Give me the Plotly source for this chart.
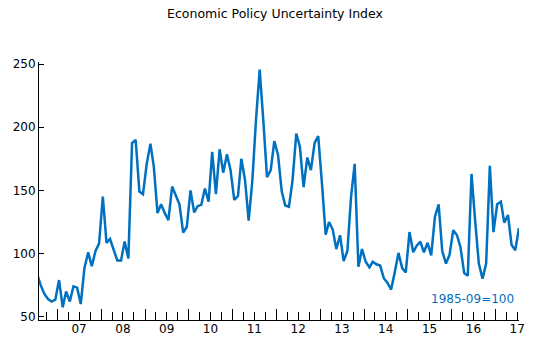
import pandas as pd
import plotly.graph_objects as go

# Monthly index values, Jul 2006 - Jul 2017
values = [
    84, 75, 68, 64, 62, 63.5,                                             # 2006 Jul-Dec
    79, 57.5, 70, 62, 74, 73, 60, 88.5, 101, 90, 102, 108,                # 2007
    145, 108.5, 111.5, 102, 94.5, 94.5, 109.5, 96, 187.5, 190, 149, 147,  # 2008
    171, 187, 169, 132, 139, 132, 126.5, 153, 146, 139, 116.5, 121,       # 2009
    150, 132.5, 137.5, 138.5, 151.5, 141, 180.5, 147, 182.5, 164, 178.5, 166,  # 2010
    142.5, 145.5, 175, 158, 126, 158, 205.5, 245.5, 204, 160.5, 166, 189,  # 2011
    178, 149, 138, 137, 158, 195, 184.5, 152.5, 176, 166, 187.5, 193,     # 2012
    155.5, 115, 125, 119, 103.5, 114.5, 94, 102, 145, 171, 89.5, 103.5,   # 2013
    93.5, 89, 93.5, 91.5, 90.5, 80.5, 77, 71.5, 85.5, 100.5, 88.5, 85,    # 2014
    117, 101, 106, 109.5, 101, 108.5, 98.5, 129, 139, 102, 92, 99,        # 2015
    118.5, 114.5, 105, 84.5, 82.5, 163, 126.5, 92, 80, 92, 169.5, 117,    # 2016
    139, 141, 124.5, 130.5, 107, 102.5, 120,                              # 2017 Jan-Jul
]
months = pd.date_range("2006-07-01", periods=len(values), freq="MS") + pd.Timedelta(days=14)

year_labels = ["07", "08", "09", "10", "11", "12", "13", "14", "15", "16", "17"]
label_dates = [f"20{y}-07-01" for y in year_labels]
year_starts = [f"20{y}-01-01" for y in year_labels]
quarter_starts = [f"20{y}-{m:02d}-01" for y in ["06"] + year_labels for m in (4, 7, 10)]
y_ticks = [50, 100, 150, 200, 250]

title_text = "Economic Policy Uncertainty Index"
note_text = "1985-09=100"

line_color = "#0070C0"
font_family = "DejaVu Sans, Arial, sans-serif"
x_range = ["2006-08-01", "2017-07-16"]

fig = go.Figure()
fig.add_trace(go.Scatter(x=months, y=values, mode="lines",
                         line=dict(color=line_color, width=2.5),
                         showlegend=False, hoverinfo="skip"))
# label axis (x2) gets a non-drawing copy so it is rendered
fig.add_trace(go.Scatter(x=months, y=values, xaxis="x2", mode="none",
                         showlegend=False, hoverinfo="skip"))

fig.update_layout(
    width=550, height=340,
    margin=dict(l=39, r=31, t=62, b=20),
    paper_bgcolor="white", plot_bgcolor="white",
    font=dict(family=font_family, size=11, color="black"),
    title=dict(text=title_text, x=0.5, xref="container", xanchor="center",
               y=1 - 14 / 340, yref="container", yanchor="middle",
               font=dict(size=12.5, color="black", family=font_family)),
    xaxis=dict(type="date", range=x_range,
               showline=True, linecolor="black", linewidth=1,
               showgrid=False, zeroline=False, automargin=False,
               showticklabels=False,
               tickmode="array", tickvals=year_starts,
               ticks="inside", ticklen=11, tickcolor="black", tickwidth=1,
               minor=dict(ticks="inside", tickmode="array", tickvals=quarter_starts,
                          ticklen=8, tickcolor="black", tickwidth=1, showgrid=False)),
    xaxis2=dict(type="date", range=x_range, overlaying="x", anchor="y", side="bottom",
                tickmode="array", tickvals=label_dates, ticktext=year_labels, ticks="",
                showline=False, showgrid=False, zeroline=False, automargin=False,
                tickfont=dict(size=12)),
    yaxis=dict(range=[47.4, 251.6], tickmode="array", tickvals=y_ticks,
               ticks="inside", ticklen=5, tickcolor="black",
               showline=True, linecolor="black", linewidth=1, automargin=False,
               showgrid=False, zeroline=False, tickfont=dict(size=12)),
    annotations=[dict(text=note_text, xref="paper", yref="paper",
                      x=0.9946, y=0.0814, xanchor="right", yanchor="middle",
                      showarrow=False, font=dict(size=12, color=line_color))],
)

fig.write_html("out.html")
